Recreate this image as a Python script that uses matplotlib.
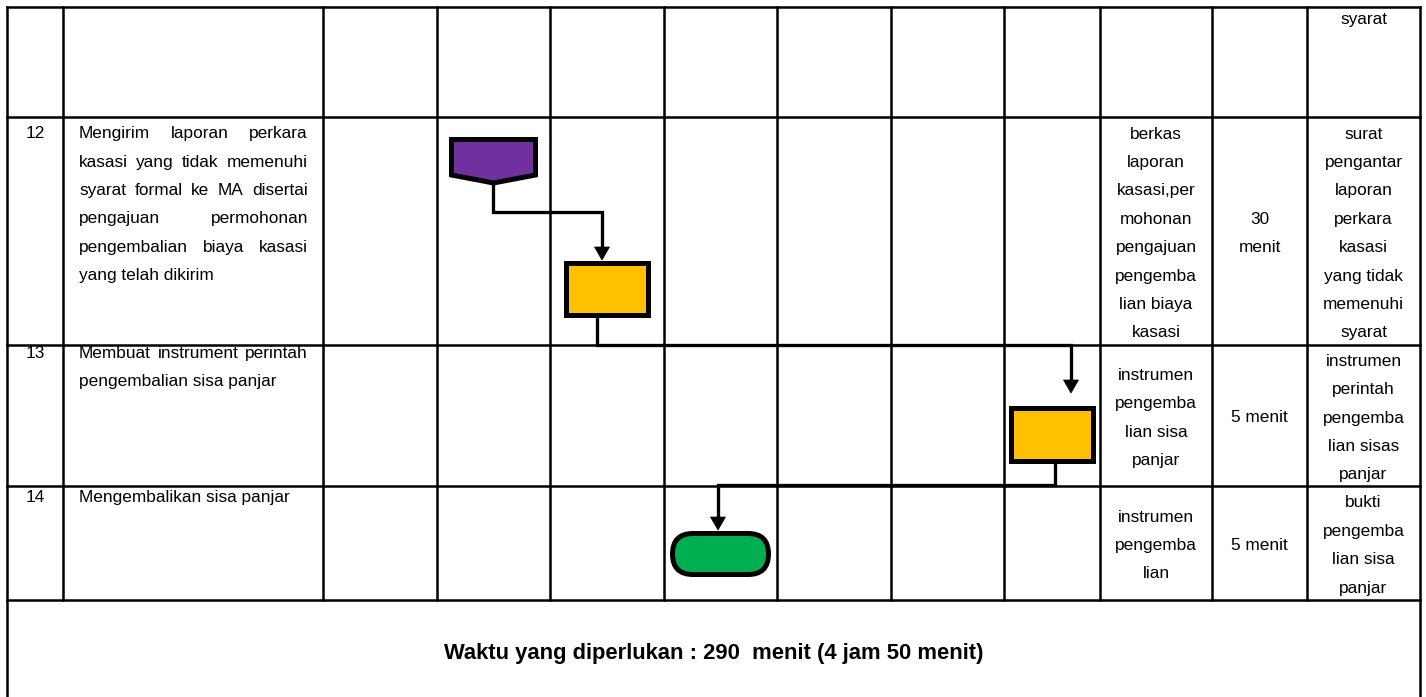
"""Flowchart SOP (lanjutan) — langkah 12-14, pengembalian sisa panjar kasasi."""
import matplotlib
matplotlib.use("Agg")
import matplotlib.pyplot as plt
from matplotlib.patches import Polygon, Rectangle, FancyBboxPatch

plt.rcParams["font.family"] = ["Liberation Sans", "DejaVu Sans"]

# --- isi tabel ---
row_no = ["12", "13", "14"]
kegiatan = [
    ["Mengirim laporan perkara", "kasasi yang tidak memenuhi", "syarat formal ke MA disertai",
     "pengajuan permohonan", "pengembalian biaya kasasi", "yang telah dikirim"],
    ["Membuat instrument perintah", "pengembalian sisa panjar"],
    ["Mengembalikan sisa panjar"],
]
kelengkapan = [
    ["berkas", "laporan", "kasasi,per", "mohonan", "pengajuan", "pengemba", "lian biaya", "kasasi"],
    ["instrumen", "pengemba", "lian sisa", "panjar"],
    ["instrumen", "pengemba", "lian"],
]
waktu = [["30", "menit"], ["5 menit"], ["5 menit"]]
output = [
    ["surat", "pengantar", "laporan", "perkara", "kasasi", "yang tidak", "memenuhi", "syarat"],
    ["instrumen", "perintah", "pengemba", "lian sisas", "panjar"],
    ["bukti", "pengemba", "lian sisa", "panjar"],
]
output_sebelumnya = ["syarat"]  # sambungan dari halaman sebelumnya
total_waktu = "Waktu yang diperlukan : 290  menit (4 jam 50 menit)"

# simbol flowchart per pelaksana (indeks kolom tabel)
simbol_jenis = ["offpage", "proses", "proses", "terminator"]
simbol_kolom = [3, 4, 8, 5]
simbol_warna = ["#7030A0", "#FFC000", "#FFC000", "#00B050"]

# --- layout (piksel) ---
W, H = 1426, 697
col_x = [7, 63, 323, 437, 550, 664, 777, 891, 1004, 1100, 1212, 1307, 1420]
row_y = [7, 117, 345, 486, 600]
keg_baseline = [138.3, 358, 502]
simbol_top = [139.5, 262.5, 407.5, 533.5]
simbol_size = [(84, 43.5), (82, 52), (82, 53), (96, 41)]
konektor = [  # (x0, y0, y_belok, x1, y_ujung)
    (493, 183, 212, 602, 260),
    (597, 314.5, 345, 1071, 393),
    (1055, 460.5, 485, 718, 530),
]
FS = 12.4
LINE = 28.4
GRID_LW = 1.8
PX = 0.72  # px -> pt

fig = plt.figure(figsize=(W / 100, H / 100), dpi=100)
ax = fig.add_axes([0, 0, 1, 1])
ax.set_xlim(0, W); ax.set_ylim(H, 0); ax.axis("off")
rend = fig.canvas.get_renderer()

# grid tabel
for i, x in enumerate(col_x):
    outer = i in (0, len(col_x) - 1)
    ax.plot([x, x], [row_y[0], H + 5 if outer else row_y[-1]], color="black", lw=GRID_LW,
            solid_capstyle="projecting")
for y in row_y:
    ax.plot([col_x[0], col_x[-1]], [y, y], color="black", lw=GRID_LW, solid_capstyle="projecting")


def center_lines(lines, x, y_mid):
    n = len(lines)
    for i, s in enumerate(lines):
        ax.text(x, y_mid + 7 + (i - (n - 1) / 2) * LINE, s, ha="center", va="baseline", fontsize=FS)


def justified(lines, x0, x1, y0):
    for i, s in enumerate(lines):
        y = y0 + i * LINE
        words = s.split()
        if i == len(lines) - 1 or len(words) == 1:
            ax.text(x0, y, s, ha="left", va="baseline", fontsize=FS)
            continue
        arts = [ax.text(0, y, w, ha="left", va="baseline", fontsize=FS) for w in words]
        widths = [a.get_window_extent(rend).width for a in arts]
        gap = (x1 - x0 - sum(widths)) / (len(words) - 1)
        x = x0
        for a, wd in zip(arts, widths):
            a.set_x(x)
            x += wd + gap


def cx(k):
    return (col_x[k] + col_x[k + 1]) / 2


ax.text(cx(11), 24, output_sebelumnya[0], ha="center", va="baseline", fontsize=FS)
for r in range(len(row_no)):
    mid = (row_y[r + 1] + row_y[r + 2]) / 2
    ax.text(cx(0), keg_baseline[r], row_no[r], ha="center", va="baseline", fontsize=FS)
    justified(kegiatan[r], 79, 308, keg_baseline[r])
    center_lines(kelengkapan[r], cx(9), mid)
    center_lines(waktu[r], cx(10), mid)
    center_lines(output[r], cx(11), mid)

ax.text((col_x[0] + col_x[-1]) / 2, 659, total_waktu, ha="center", va="baseline",
        fontsize=15.8, fontweight="bold")

# simbol
for jenis, k, warna, top, (w, h) in zip(simbol_jenis, simbol_kolom, simbol_warna, simbol_top, simbol_size):
    x = cx(k)
    if jenis == "offpage":
        p = Polygon([(x - w / 2, top), (x + w / 2, top), (x + w / 2, top + h - 8), (x, top + h),
                     (x - w / 2, top + h - 8)], closed=True, joinstyle="miter")
    elif jenis == "proses":
        p = Rectangle((x - w / 2, top), w, h, joinstyle="miter")
    else:
        p = FancyBboxPatch((x - w / 2, top), w, h, boxstyle=f"round,pad=0,rounding_size={h / 2}")
    p.set_facecolor(warna); p.set_edgecolor("black"); p.set_linewidth(5 * PX); p.set_zorder(3)
    ax.add_patch(p)

# konektor + kepala panah
for x0, y0, yb, x1, yt in konektor:
    ax.plot([x0, x0, x1, x1], [y0, yb, yb, yt - 12], color="black", lw=3.3 * PX, zorder=2,
            solid_joinstyle="miter")
    ax.add_patch(Polygon([(x1 - 7.5, yt - 13), (x1 + 7.5, yt - 13), (x1, yt)], closed=True,
                         facecolor="black", edgecolor="black", lw=0.5, zorder=2))

fig.savefig("out.png", dpi=100)
